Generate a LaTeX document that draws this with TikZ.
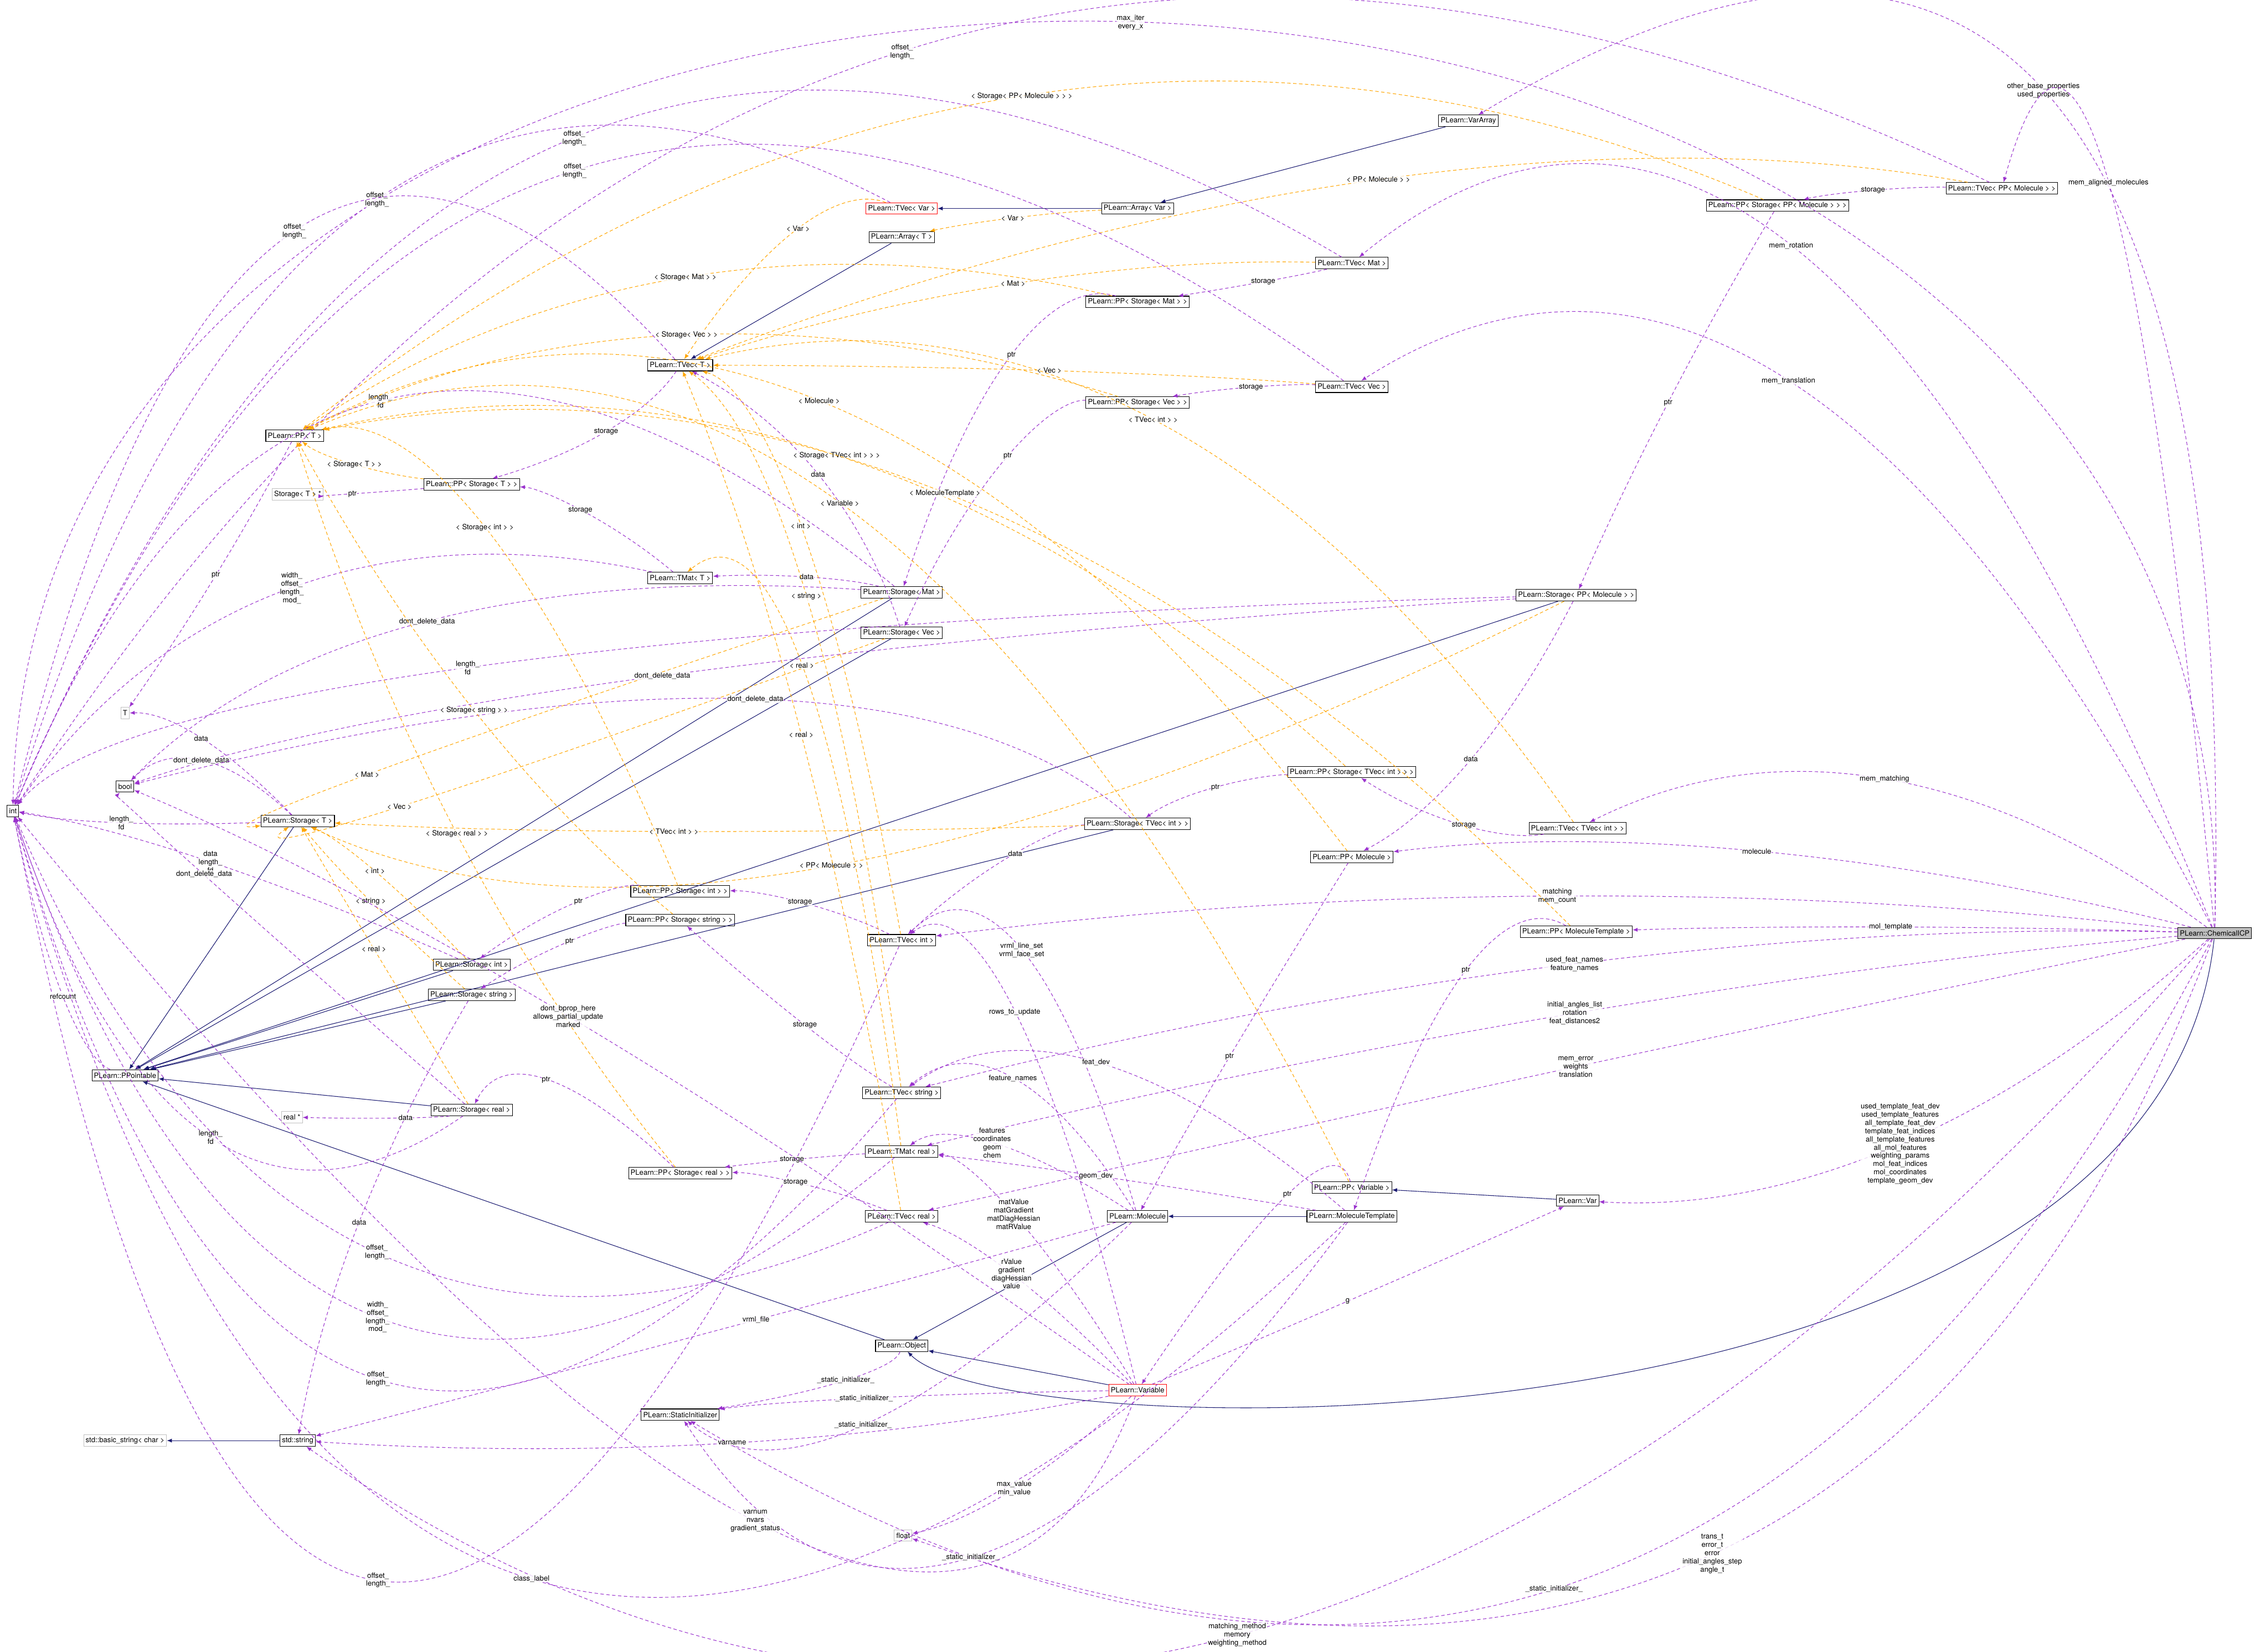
\documentclass[tikz,border=0pt]{standalone}
\usepackage{fontspec}
\setmainfont{TeX Gyre Heros}
\usetikzlibrary{arrows.meta,calc}
\definecolor{usecol}{HTML}{9A32CD}
\definecolor{inhcol}{HTML}{191970}
\definecolor{tmplcol}{HTML}{FFA500}
% dashed link that runs through the label point #4
\newcommand{\uses}[5][use]{%
  \draw[#1] (#2) .. controls ($1.3333*(#4)-0.3333*(#3)$) and ($1.3333*(#4)-0.3333*(#2)$) .. (#3) node[lab,pos=.5] {#5};}

\begin{document}
\begin{tikzpicture}[
  x=0.03cm, y=-0.03cm,
  every node/.style={font=\fontsize{4.3}{4.9}\selectfont},
  cls/.style={draw=black, line width=0.35pt, inner sep=1.2pt, minimum height=0.24cm},
  ext/.style={cls, draw=gray!50},
  redcls/.style={cls, draw=red},
  root/.style={cls, fill=gray!50},
  lab/.style={align=center, fill=white, inner sep=0.3pt, fill opacity=0.8, text opacity=1},
  inh/.style={draw=inhcol, line width=0.35pt, -{Latex[length=3pt,width=2.4pt]}},
  use/.style={draw=usecol, dashed, dash pattern=on 2pt off 1.5pt, line width=0.35pt, -{Latex[length=3pt,width=2.4pt]}},
  tmpl/.style={use, draw=tmplcol}
  ]
  \useasboundingbox (0,0) rectangle (1568,1149);

  % classes
  \node[root] (ci) at (1540,649) {PLearn::ChemicalICP};
  \node[cls] (int) at (9,564) {int};
  \node[cls] (bool) at (87,547) {bool};
  \node[ext] (T) at (87,496) {T};
  \node[ext] (stp) at (207,344) {Storage< T > *};
  \node[ext] (realp) at (203,777) {real *};
  \node[ext] (bstr) at (87,1002) {std::basic\_string< char >};
  \node[ext] (float) at (628,1068) {float};
  \node[cls] (ppT) at (205,303) {PLearn::PP< T >};
  \node[cls] (tvT) at (473,254) {PLearn::TVec< T >};
  \node[cls] (arrT) at (627,165) {PLearn::Array< T >};
  \node[redcls] (tvVar) at (627,145) {PLearn::TVec< Var >};
  \node[cls] (arrVar) at (791,145) {PLearn::Array< Var >};
  \node[cls] (vararr) at (1021,84) {PLearn::VarArray};
  \node[cls] (tvPPmol) at (1392,131) {PLearn::TVec< PP< Molecule > >};
  \node[cls] (ppStPPmol) at (1236,143) {PLearn::PP< Storage< PP< Molecule > > >};
  \node[cls] (tvMat) at (940,183) {PLearn::TVec< Mat >};
  \node[cls] (ppStMat) at (791,210) {PLearn::PP< Storage< Mat > >};
  \node[cls] (tvVec) at (940,269) {PLearn::TVec< Vec >};
  \node[cls] (ppStVec) at (791,280) {PLearn::PP< Storage< Vec > >};
  \node[cls] (ppStT) at (328,337) {PLearn::PP< Storage< T > >};
  \node[cls] (tmT) at (473,402) {PLearn::TMat< T >};
  \node[cls] (stMat) at (627,412) {PLearn::Storage< Mat >};
  \node[cls] (stVec) at (627,440) {PLearn::Storage< Vec >};
  \node[cls] (stPPmol) at (1096,414) {PLearn::Storage< PP< Molecule > >};
  \node[cls] (ppStTVi) at (940,537) {PLearn::PP< Storage< TVec< int > > >};
  \node[cls] (stTVi) at (791,573) {PLearn::Storage< TVec< int > >};
  \node[cls] (tvTVi) at (1097,576) {PLearn::TVec< TVec< int > >};
  \node[cls] (ppMol) at (940,596) {PLearn::PP< Molecule >};
  \node[cls] (stT) at (207,571) {PLearn::Storage< T >};
  \node[cls] (ppStInt) at (473,620) {PLearn::PP< Storage< int > >};
  \node[cls] (ppStStr) at (473,640) {PLearn::PP< Storage< string > >};
  \node[cls] (tvInt) at (627,654) {PLearn::TVec< int >};
  \node[cls] (ppMT) at (1096,648) {PLearn::PP< MoleculeTemplate >};
  \node[cls] (stInt) at (328,671) {PLearn::Storage< int >};
  \node[cls] (stStr) at (328,692) {PLearn::Storage< string >};
  \node[cls] (ppt) at (87,748) {PLearn::PPointable};
  \node[cls] (tvStr) at (627,760) {PLearn::TVec< string >};
  \node[cls] (stReal) at (328,772) {PLearn::Storage< real >};
  \node[cls] (tmReal) at (627,801) {PLearn::TMat< real >};
  \node[cls] (ppStReal) at (473,816) {PLearn::PP< Storage< real > >};
  \node[cls] (tvReal) at (627,846) {PLearn::TVec< real >};
  \node[cls] (ppVar) at (940,826) {PLearn::PP< Variable >};
  \node[cls] (var) at (1097,835) {PLearn::Var};
  \node[cls] (mol) at (791,846) {PLearn::Molecule};
  \node[cls] (mt) at (940,846) {PLearn::MoleculeTemplate};
  \node[cls] (obj) at (627,936) {PLearn::Object};
  \node[redcls] (variable) at (791,967) {PLearn::Variable};
  \node[cls] (sinit) at (473,984) {PLearn::StaticInitializer};
  \node[cls] (str) at (207,1002) {std::string};

  % inheritance
  \draw[inh] (vararr) -- (arrVar);
  \draw[inh] (arrVar) -- (tvVar);
  \draw[inh] (arrT) -- (tvT);
  \draw[inh] (var) -- (ppVar);
  \draw[inh] (mt) -- (mol);
  \draw[inh] (str) -- (bstr);
  \foreach \s in {stT,stInt,stStr,stReal,stMat,stVec,stTVi,stPPmol,obj}
    \draw[inh] (\s) -- (ppt);
  \draw[inh] (mol) -- (obj);
  \draw[inh] (variable) -- (obj);
  \draw[inh] (ci) .. controls (1500,1020) and (700,1010) .. (obj);

  % members of ChemicalICP
  \draw[use] (ci) .. controls (1560,-180) and (20,-180) .. (int) node[lab,pos=.5] {max\_iter\\every\_x};
  \uses{ci}{vararr}{1420,64}{other\_base\_properties\\used\_properties}
  \uses{ci}{tvPPmol}{1466,128}{mem\_aligned\_molecules}
  \uses{ci}{tvMat}{1245,172}{mem\_rotation}
  \uses{ci}{tvVec}{1243,266}{mem\_translation}
  \uses{ci}{tvTVi}{1310,543}{mem\_matching}
  \uses{ci}{ppMol}{1220,593}{molecule}
  \uses{ci}{tvInt}{1083,624}{matching\\mem\_count}
  \uses{ci}{ppMT}{1313,645}{mol\_template}
  \uses{ci}{tvStr}{1096,671}{used\_feat\_names\\feature\_names}
  \uses{ci}{tmReal}{1096,705}{initial\_angles\_list\\rotation\\feat\_distances2}
  \uses{ci}{tvReal}{1096,742}{mem\_error\\weights\\translation}
  \uses{ci}{var}{1320,795}{used\_template\_feat\_dev\\used\_template\_features\\all\_template\_feat\_dev\\template\_feat\_indices\\all\_template\_features\\all\_mol\_features\\weighting\_params\\mol\_feat\_indices\\mol\_coordinates\\template\_geom\_dev}
  \uses{ci}{float}{1190,1080}{trans\_t\\error\_t\\error\\initial\_angles\_step\\angle\_t}
  \uses{ci}{sinit}{1080,1104}{\_static\_initializer\_}
  \uses{ci}{str}{860,1136}{matching\_method\\memory\\weighting\_method}

  % arrays and vectors
  \uses[tmpl]{arrVar}{arrT}{705,152}{< Var >}
  \uses[tmpl]{tvVar}{tvT}{556,160}{< Var >}
  \uses{tvVar}{int}{263,140}{offset\_\\length\_}
  \uses{tvPPmol}{ppStPPmol}{1305,133}{storage}
  \uses[tmpl]{tvPPmol}{tvT}{960,126}{< PP< Molecule > >}
  \uses{tvPPmol}{int}{628,37}{offset\_\\length\_}
  \uses{ppStPPmol}{stPPmol}{1160,280}{ptr}
  \uses[tmpl]{ppStPPmol}{ppT}{711,68}{< Storage< PP< Molecule > > >}
  \uses{tvMat}{ppStMat}{877,196}{storage}
  \uses[tmpl]{tvMat}{tvT}{706,198}{< Mat >}
  \uses{tvMat}{int}{400,97}{offset\_\\length\_}
  \uses{ppStMat}{stMat}{705,248}{ptr}
  \uses[tmpl]{ppStMat}{ppT}{478,194}{< Storage< Mat > >}
  \uses{tvVec}{ppStVec}{870,270}{storage}
  \uses[tmpl]{tvVec}{tvT}{730,258}{< Vec >}
  \uses{tvVec}{int}{400,120}{offset\_\\length\_}
  \uses{ppStVec}{stVec}{705,318}{ptr}
  \uses[tmpl]{ppStVec}{ppT}{478,234}{< Storage< Vec > >}
  \uses{tvT}{int}{205,162}{offset\_\\length\_}
  \uses{tvT}{ppStT}{420,300}{storage}
  \uses{ppT}{T}{150,400}{ptr}
  \uses{ppStT}{stp}{247,343}{ptr}
  \uses[tmpl]{ppStT}{ppT}{250,323}{< Storage< T > >}
  \uses{tmT}{ppStT}{400,355}{storage}
  \uses{tmT}{int}{205,410}{width\_\\offset\_\\length\_\\mod\_}

  % storages
  \uses{stMat}{tmT}{560,402}{data}
  \uses{stMat}{int}{265,280}{length\_\\fd}
  \uses{stMat}{bool}{300,433}{dont\_delete\_data}
  \uses[tmpl]{stMat}{stT}{260,538}{< Mat >}
  \uses{stVec}{tvT}{568,330}{data}
  \uses[tmpl]{stVec}{stT}{280,560}{< Vec >}
  \uses{stPPmol}{ppMol}{1022,528}{data}
  \uses{stPPmol}{bool}{465,470}{dont\_delete\_data}
  \uses[tmpl]{stPPmol}{stT}{578,601}{< PP< Molecule > >}
  \uses{stPPmol}{int}{330,465}{length\_\\fd}
  \uses{stT}{T}{140,514}{data}
  \uses{stT}{bool}{140,530}{dont\_delete\_data}
  \uses{stT}{int}{87,572}{length\_\\fd}
  \uses{ppStTVi}{stTVi}{850,548}{ptr}
  \uses[tmpl]{ppStTVi}{ppT}{580,318}{< Storage< TVec< int > > >}
  \uses{tvTVi}{ppStTVi}{1020,573}{storage}
  \uses[tmpl]{tvTVi}{tvT}{800,293}{< TVec< int > >}
  \uses{stTVi}{tvInt}{710,594}{data}
  \uses{stTVi}{bool}{525,487}{dont\_delete\_data}
  \uses[tmpl]{stTVi}{stT}{470,578}{< TVec< int > >}
  \uses{ppMol}{mol}{855,735}{ptr}
  \uses[tmpl]{ppMol}{ppT}{569,280}{< Molecule >}
  \uses{ppMT}{mt}{1020,676}{ptr}
  \uses[tmpl]{ppMT}{ppT}{655,344}{< MoleculeTemplate >}
  \uses{ppStInt}{stInt}{405,628}{ptr}
  \uses[tmpl]{ppStInt}{ppT}{335,368}{< Storage< int > >}
  \uses{ppStStr}{stStr}{400,655}{ptr}
  \uses[tmpl]{ppStStr}{ppT}{330,494}{< Storage< string > >}
  \uses{tvInt}{ppStInt}{553,628}{storage}
  \uses[tmpl]{tvInt}{tvT}{555,366}{< int >}
  \uses{tvInt}{int}{263,1098}{offset\_\\length\_}
  \uses[tmpl]{stInt}{stT}{260,606}{< int >}
  \uses{stInt}{int}{147,600}{data\\length\_\\fd}
  \uses[tmpl]{stStr}{stT}{258,627}{< string >}
  \uses{stStr}{str}{250,850}{data}
  \uses{tvStr}{ppStStr}{560,713}{storage}
  \uses[tmpl]{tvStr}{tvT}{560,415}{< string >}
  \uses{tvStr}{int}{263,958}{offset\_\\length\_}
  \uses{stReal}{realp}{283,777}{data}
  \uses[tmpl]{stReal}{stT}{260,660}{< real >}
  \uses{stReal}{bool}{143,608}{dont\_delete\_data}
  \uses{stReal}{int}{147,790}{length\_\\fd}
  \uses{ppStReal}{stReal}{380,752}{ptr}
  \uses[tmpl]{ppStReal}{ppT}{318,580}{< Storage< real > >}
  \uses{tmReal}{ppStReal}{550,807}{storage}
  \uses[tmpl]{tmReal}{tmT}{557,464}{< real >}
  \uses{tmReal}{int}{263,915}{width\_\\offset\_\\length\_\\mod\_}
  \uses{tvReal}{ppStReal}{550,823}{storage}
  \uses[tmpl]{tvReal}{tvT}{557,511}{< real >}
  \uses{tvReal}{int}{263,870}{offset\_\\length\_}
  \uses{ppt}{int}{45,693}{refcount}

  % objects
  \uses{obj}{sinit}{585,960}{\_static\_initializer\_}
  \uses{mol}{tmReal}{690,796}{features\\coordinates\\geom\\chem}
  \uses{mol}{tvStr}{704,751}{feature\_names}
  \uses{mol}{tvInt}{710,662}{vrml\_line\_set\\vrml\_face\_set}
  \uses{mol}{str}{526,918}{vrml\_file}
  \uses{mol}{sinit}{600,990}{\_static\_initializer\_}
  \uses{mt}{tmReal}{762,818}{geom\_dev}
  \uses{mt}{tvStr}{762,740}{feat\_dev}
  \uses{mt}{sinit}{675,1082}{\_static\_initializer\_}
  \uses{mt}{int}{370,1097}{class\_label}
  \uses{ppVar}{variable}{895,832}{ptr}
  \uses[tmpl]{ppVar}{ppT}{583,351}{< Variable >}
  \uses{variable}{var}{937,905}{g}
  \uses{variable}{tmReal}{702,845}{matValue\\matGradient\\matDiagHessian\\matRValue}
  \uses{variable}{tvReal}{702,886}{rValue\\gradient\\diagHessian\\value}
  \uses{variable}{tvInt}{705,705}{rows\_to\_update}
  \uses{variable}{sinit}{600,973}{\_static\_initializer\_}
  \uses{variable}{str}{510,1003}{varname}
  \uses{variable}{float}{705,1035}{max\_value\\min\_value}
  \uses{variable}{int}{525,1057}{varnum\\nvars\\gradient\_status}
  \uses{variable}{bool}{395,707}{dont\_bprop\_here\\allows\_partial\_update\\marked}
\end{tikzpicture}
\end{document}
